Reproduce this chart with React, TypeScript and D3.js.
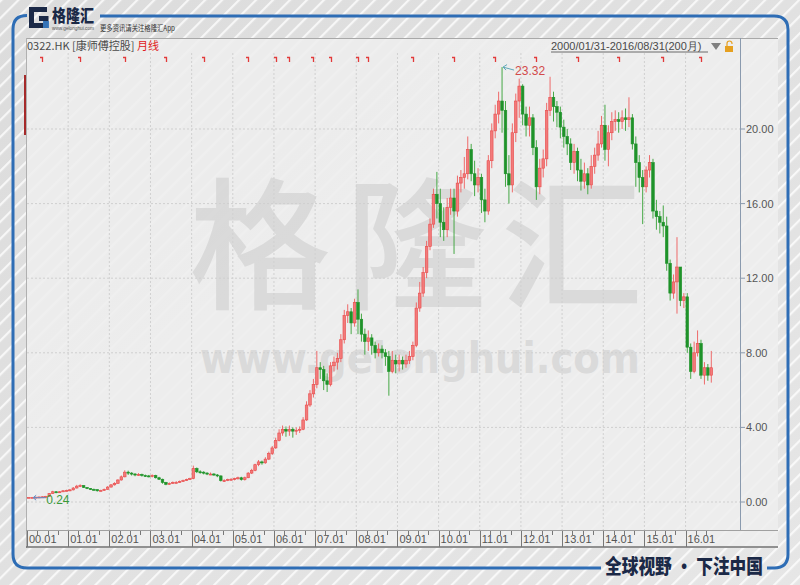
import React from 'react';
import * as d3 from 'd3';

// Monthly OHLC for 0322.HK, Jan 2000 – Aug 2016 (200 months); open = previous close
const closes = [
  0.25, 0.25, 0.26, 0.27, 0.28, 0.30, 0.45, 0.55, 0.50, 0.55, 0.60, 0.62, // 2000
  0.65, 0.75, 0.85, 0.88, 0.78, 0.72, 0.68, 0.66, 0.60, 0.62, 0.68, 0.80, // 2001
  0.92, 1.00, 1.18, 1.35, 1.60, 1.55, 1.50, 1.45, 1.48, 1.42, 1.40, 1.38, // 2002
  1.42, 1.30, 1.22, 1.05, 0.95, 1.00, 1.05, 1.05, 1.10, 1.15, 1.20, 1.25, // 2003
  1.80, 1.62, 1.60, 1.55, 1.50, 1.50, 1.45, 1.40, 1.15, 1.15, 1.20, 1.22, // 2004
  1.25, 1.30, 1.20, 1.30, 1.55, 1.70, 2.00, 2.15, 2.10, 2.30, 2.60, 2.90, // 2005
  3.30, 3.70, 3.90, 3.80, 3.90, 3.80, 3.85, 3.90, 4.40, 5.20, 5.80, 6.30, // 2006
  7.20, 7.10, 6.50, 6.30, 7.30, 7.50, 7.70, 8.70, 10.00, 10.20, 9.60, 10.70, // 2007
  9.80, 9.00, 8.60, 8.80, 8.40, 8.00, 8.20, 8.00, 7.80, 7.00, 7.60, 7.40, // 2008
  7.60, 7.40, 7.60, 7.80, 8.40, 10.40, 11.20, 12.30, 13.70, 14.90, 16.50, 16.00, // 2009
  15.0, 14.6, 15.8, 16.3, 15.6, 17.1, 17.4, 17.6, 18.9, 17.6, 17.0, 17.4, // 2010
  16.2, 15.6, 18.3, 19.9, 20.8, 21.5, 21.0, 17.6, 17.0, 19.8, 21.5, 22.3, // 2011
  20.8, 20.2, 20.6, 19.0, 16.9, 17.9, 18.4, 21.0, 21.7, 21.2, 20.9, 20.1, // 2012
  19.6, 19.2, 18.2, 18.8, 17.8, 17.2, 17.6, 17.0, 18.0, 18.6, 19.2, 20.2, // 2013
  18.9, 19.8, 20.4, 20.5, 20.4, 20.6, 20.5, 20.6, 19.2, 18.2, 17.4, 16.9, // 2014
  17.8, 18.2, 15.6, 15.3, 15.0, 14.8, 12.8, 11.2, 11.8, 12.6, 10.8, 11.0, // 2015
  8.3, 7.0, 8.0, 8.5, 6.8, 7.2, 6.8, 7.2, // 2016
];

const highs = [
  0.26, 0.27, 0.28, 0.29, 0.30, 0.33, 0.48, 0.60, 0.58, 0.58, 0.64, 0.66,
  0.70, 0.80, 0.92, 0.95, 0.90, 0.80, 0.75, 0.72, 0.68, 0.66, 0.72, 0.85,
  0.96, 1.06, 1.22, 1.42, 1.70, 1.68, 1.60, 1.55, 1.55, 1.52, 1.47, 1.45,
  1.48, 1.46, 1.35, 1.25, 1.08, 1.05, 1.10, 1.12, 1.15, 1.20, 1.25, 1.30,
  1.95, 1.85, 1.70, 1.65, 1.60, 1.58, 1.55, 1.50, 1.42, 1.22, 1.25, 1.28,
  1.30, 1.36, 1.35, 1.36, 1.60, 1.78, 2.05, 2.25, 2.22, 2.40, 2.70, 3.00,
  3.45, 3.90, 4.10, 4.05, 4.10, 4.00, 4.00, 4.05, 4.55, 5.40, 6.00, 6.60,
  8.10, 7.50, 7.30, 6.90, 7.50, 7.80, 8.00, 9.00, 10.30, 10.60, 10.40, 10.90,
  11.40, 10.10, 9.30, 9.20, 9.00, 8.60, 8.50, 8.40, 8.20, 8.10, 8.10, 7.90,
  7.90, 7.80, 7.90, 8.10, 8.60, 10.70, 11.80, 12.60, 14.00, 15.20, 16.80, 17.70,
  16.8, 15.8, 16.3, 16.8, 16.8, 17.5, 17.8, 18.5, 19.6, 19.2, 18.3, 17.9,
  17.6, 16.8, 18.6, 20.3, 21.3, 22.0, 23.32, 21.5, 18.6, 20.3, 21.9, 22.7,
  22.4, 21.2, 21.2, 20.8, 19.4, 18.4, 18.9, 21.4, 22.8, 22.0, 21.5, 21.2,
  20.5, 20.0, 19.5, 19.2, 19.0, 18.4, 18.2, 17.9, 18.6, 19.0, 19.9, 20.7,
  21.3, 20.2, 20.9, 21.0, 20.9, 21.0, 21.1, 21.7, 20.8, 19.6, 18.6, 17.8,
  18.0, 18.6, 18.4, 16.2, 15.6, 15.9, 15.3, 13.0, 12.2, 14.2, 12.6, 11.2,
  11.2, 8.5, 8.6, 9.2, 8.7, 7.5, 7.4, 8.1,
];

const lows = [
  0.24, 0.23, 0.24, 0.25, 0.26, 0.27, 0.29, 0.43, 0.47, 0.48, 0.53, 0.57,
  0.58, 0.62, 0.72, 0.80, 0.75, 0.69, 0.65, 0.62, 0.56, 0.58, 0.60, 0.66,
  0.78, 0.88, 0.98, 1.15, 1.32, 1.45, 1.42, 1.38, 1.40, 1.36, 1.34, 1.32,
  1.32, 1.26, 1.18, 0.98, 0.90, 0.92, 0.97, 1.00, 1.02, 1.08, 1.13, 1.18,
  1.22, 1.55, 1.52, 1.48, 1.44, 1.44, 1.40, 1.33, 1.10, 1.08, 1.12, 1.15,
  1.16, 1.20, 1.15, 1.15, 1.28, 1.50, 1.65, 1.92, 2.00, 2.05, 2.25, 2.52,
  2.85, 3.25, 3.55, 3.50, 3.55, 3.45, 3.60, 3.70, 3.85, 4.35, 5.10, 5.60,
  6.10, 6.60, 6.00, 5.90, 6.20, 7.00, 7.10, 7.50, 8.50, 9.60, 9.00, 9.40,
  9.00, 8.60, 7.90, 8.10, 7.90, 7.70, 7.80, 7.70, 7.30, 5.70, 6.90, 6.90,
  7.00, 7.10, 7.20, 7.40, 7.60, 8.30, 10.20, 11.00, 12.00, 13.50, 14.70, 15.20,
  14.2, 14.0, 14.2, 15.4, 13.3, 15.3, 16.6, 16.8, 17.3, 17.2, 16.4, 16.6,
  15.5, 15.0, 15.4, 17.9, 19.5, 20.3, 19.8, 16.9, 16.0, 16.6, 19.3, 20.6,
  20.2, 19.6, 19.6, 18.6, 16.2, 16.5, 17.4, 18.0, 20.7, 20.4, 20.1, 19.5,
  19.0, 18.6, 17.8, 17.6, 17.2, 16.7, 16.8, 16.5, 16.8, 17.6, 18.3, 19.0,
  18.3, 18.0, 19.4, 19.9, 19.8, 20.0, 19.9, 20.1, 18.9, 16.9, 16.6, 14.9,
  16.6, 17.4, 15.2, 14.6, 14.4, 14.2, 12.4, 10.8, 10.9, 10.1, 10.5, 10.4,
  8.0, 6.6, 6.9, 7.8, 6.6, 6.3, 6.5, 6.4,
];

const firstOpen = 0.24;
const yearLabels = ['00.01', '01.01', '02.01', '03.01', '04.01', '05.01', '06.01', '07.01', '08.01', '09.01', '10.01', '11.01', '12.01', '13.01', '14.01', '15.01', '16.01'];
const yTicks = [0, 4, 8, 12, 16, 20];
const eventMonths = [4, 15, 28, 40, 51, 64, 72, 76, 83, 88, 96, 99, 112, 124, 136, 148, 160, 172, 185, 196];
const maxLabel = '23.32';
const minLabel = '0.24';

const RED = '#e84a4a';
const RED_FILL = '#f27a7a';
const GREEN = '#1f932a';
const BLUE = '#2e6db5';
const NAVY = '#1b2947';
const NUMFONT = '"Liberation Sans", Arial, sans-serif';
const CJK = '"Noto Sans CJK SC", "Noto Sans", sans-serif';

export default function App() {
  const N = closes.length;
  const opens = closes.map((_, i) => (i === 0 ? firstOpen : closes[i - 1]));
  const x = d3.scaleBand<number>().domain(d3.range(N)).range([27, 713]);
  const y = d3.scaleLinear().domain([0, 20]).range([502, 129]);
  const cx = (i: number) => (x(i) as number) + x.bandwidth() / 2;
  const yearX = yearLabels.map((_, k) => x(k * 12) as number);
  const bodyW = 2.6;

  const maxIdx = d3.maxIndex(highs);
  const minIdx = d3.minIndex(lows);

  return (
    <svg width={800} height={585} style={{ position: 'absolute', left: 0, top: 0, display: 'block' }}>
      <defs>
        <pattern id="stripes" patternUnits="userSpaceOnUse" width={12} height={12} patternTransform="rotate(45)">
          <rect x={0} y={0} width={2.2} height={12} fill="#ffffff" opacity={0.75} />
        </pattern>
        <linearGradient id="bg" x1="0" y1="0" x2="1" y2="1">
          <stop offset="0" stopColor="#dcdcdc" />
          <stop offset="1" stopColor="#e6e6e6" />
        </linearGradient>
      </defs>

      <rect x={0} y={0} width={800} height={585} fill="url(#bg)" />
      <rect x={0} y={0} width={800} height={585} fill="url(#stripes)" />

      {/* chart panel */}
      <rect x={26} y={38} width={752} height={510} fill="#eeeeee" opacity={0.88} />
      <line x1={26} x2={778} y1={38.5} y2={38.5} stroke="#a8a8a8" />
      <line x1={26.5} x2={26.5} y1={38} y2={548} stroke="#b0b0b0" />
      <line x1={25} x2={25} y1={75} y2={135} stroke="#a52a2a" strokeWidth={2} />

      {/* watermark */}
      <text x={423} y={298} textAnchor="middle" fontFamily={CJK} fontSize={142} fontWeight={500}
        fill="#d2d2d2" opacity={0.7} letterSpacing={14}>格隆汇</text>
      <text x={420} y={373} textAnchor="middle" fontFamily='"DejaVu Sans", sans-serif' fontSize={42} fontWeight={700}
        fill="#d2d2d2" opacity={0.7} textLength={440} lengthAdjust="spacingAndGlyphs">www.gelonghui.com</text>

      {/* grid */}
      {yTicks.map(t => (
        <line key={'hg' + t} x1={27} x2={740} y1={y(t)} y2={y(t)} stroke="#cfcfcf" strokeDasharray="2,2" />
      ))}
      {yearX.slice(1).map((xx, k) => (
        <line key={'vg' + k} x1={xx} x2={xx} y1={53} y2={530} stroke="#d0d0d0" strokeDasharray="2,2" />
      ))}

      {/* header */}
      <text x={27} y={50} fontFamily={CJK} fontSize={11} fill="#4a4a4a">0322.HK [康师傅控股] <tspan fill="#e02020">月线</tspan></text>
      <text x={551} y={50} fontFamily={NUMFONT} fontSize={11} fill="#4a4a4a">2000/01/31-2016/08/31(200月)</text>
      <line x1={551} x2={708} y1={52} y2={52} stroke="#4a4a4a" strokeWidth={0.8} />
      <path d="M711,43 L721,43 L716,50 Z" fill="#808080" />
      <rect x={725} y={46} width={8} height={6} fill="#e6a020" />
      <path d="M727,46 L727,43.5 A2.5,2.5 0 0 1 732,43.5 L732,44" fill="none" stroke="#e6a020" strokeWidth={1.2} />

      {/* event markers */}
      {eventMonths.map(m => {
        const xx = Math.round(cx(m)) + 0.5;
        return <path key={'ev' + m} d={`M${xx - 2.5},57.5 L${xx},57.5 L${xx},62`} fill="none" stroke="#e23a3a" strokeWidth={1.3} />;
      })}

      {/* y axis */}
      <line x1={740.5} x2={740.5} y1={38} y2={530} stroke="#8a9aae" />
      {yTicks.map(t => (
        <g key={'yt' + t}>
          <line x1={740} x2={745} y1={y(t)} y2={y(t)} stroke="#8a9aae" />
          <text x={746} y={y(t) + 4} fontFamily={NUMFONT} fontSize={11} fill="#555">{t.toFixed(2)}</text>
        </g>
      ))}

      {/* candles */}
      {closes.map((c, i) => {
        const o = opens[i];
        const up = c >= o;
        const hi = Math.max(highs[i], o, c);
        const lo = Math.min(lows[i], o, c);
        const xx = cx(i);
        const top = y(Math.max(o, c));
        const h = Math.max(1, y(Math.min(o, c)) - top);
        return (
          <g key={'c' + i}>
            <line x1={xx} x2={xx} y1={y(hi)} y2={y(lo)} stroke={up ? '#ee6a6a' : '#46a846'} strokeWidth={1} />
            <rect x={xx - bodyW / 2} y={top} width={bodyW} height={h}
              fill={up ? RED_FILL : GREEN} stroke={up ? RED : GREEN} strokeWidth={0.6} />
          </g>
        );
      })}

      {/* max / min annotations */}
      <path d={`M${cx(maxIdx) + 12},${y(highs[maxIdx]) + 3} L${cx(maxIdx) + 1},${y(highs[maxIdx])}`} stroke="#5fa8b8" strokeWidth={1} fill="none" />
      <path d={`M${cx(maxIdx) + 5},${y(highs[maxIdx]) - 2.5} L${cx(maxIdx) + 1},${y(highs[maxIdx])} L${cx(maxIdx) + 4},${y(highs[maxIdx]) + 3}`} stroke="#5fa8b8" strokeWidth={1} fill="none" />
      <text x={cx(maxIdx) + 13} y={y(highs[maxIdx]) + 8} fontFamily={NUMFONT} fontSize={12} fill="#d24a4a">{maxLabel}</text>

      <path d={`M${cx(minIdx) + 14},${y(lows[minIdx])} L${cx(minIdx) + 1},${y(lows[minIdx])}`} stroke="#5f8fc8" strokeWidth={1} fill="none" />
      <path d={`M${cx(minIdx) + 4},${y(lows[minIdx]) - 2.5} L${cx(minIdx) + 1},${y(lows[minIdx])} L${cx(minIdx) + 4},${y(lows[minIdx]) + 2.5}`} stroke="#5f8fc8" strokeWidth={1} fill="none" />
      <text x={cx(minIdx) + 14} y={y(lows[minIdx]) + 6} fontFamily={NUMFONT} fontSize={12} fill="#3a9a3a">{minLabel}</text>

      {/* x axis bar */}
      <line x1={26} x2={778} y1={530.5} y2={530.5} stroke="#a0a0a0" />
      <line x1={26} x2={778} y1={547} y2={547} stroke="#707070" strokeWidth={1.5} />
      {d3.range(N).filter(i => i % 3 === 0 && i % 12 !== 0).map(i => (
        <line key={'qt' + i} x1={Math.round(x(i) as number) + 0.5} x2={Math.round(x(i) as number) + 0.5} y1={531} y2={535} stroke="#777" />
      ))}
      {yearX.map((xx, k) => (
        <g key={'xl' + k}>
          <line x1={Math.round(xx) + 0.5} x2={Math.round(xx) + 0.5} y1={531} y2={547} stroke="#777" />
          <text x={xx + 2} y={543} fontFamily={NUMFONT} fontSize={11} fill="#555">{yearLabels[k]}</text>
        </g>
      ))}

      {/* blue frame */}
      <path d="M100,16 L774,16 Q788,16 788,30 L788,554 Q788,568 774,568 L767,568" fill="none" stroke={BLUE} strokeWidth={3} />
      <path d="M27,15.5 Q13,15.5 13,29 L13,554 Q13,568 27,568 L601,568" fill="none" stroke={BLUE} strokeWidth={3} />

      {/* logo */}
      <path d="M47,9.5 L31.5,9.5 L31.5,25.5 L46,25.5 L46,18.5 L39,18.5" fill="none" stroke={NAVY} strokeWidth={5} />
      <path d="M43,21 L49,21 L49,28 L43,28 Z" fill="#3a7cc4" opacity={0.9} />
      <text x={52} y={22} fontFamily={CJK} fontSize={17} fontWeight={900} fill={NAVY} textLength={42} lengthAdjust="spacingAndGlyphs">格隆汇</text>
      <text x={52} y={30} fontFamily={NUMFONT} fontSize={4.5} fill="#555" textLength={42} lengthAdjust="spacingAndGlyphs">www.gelonghui.com</text>
      <text x={100} y={31} fontFamily={CJK} fontSize={7.5} fill="#333" textLength={75} lengthAdjust="spacingAndGlyphs">更多资讯请关注格隆汇App</text>

      {/* tagline */}
      <text x={605} y={574} fontFamily={CJK} fontSize={20} fontWeight={900} fill={NAVY} textLength={158} lengthAdjust="spacingAndGlyphs">全球视野 · 下注中国</text>
    </svg>
  );
}
